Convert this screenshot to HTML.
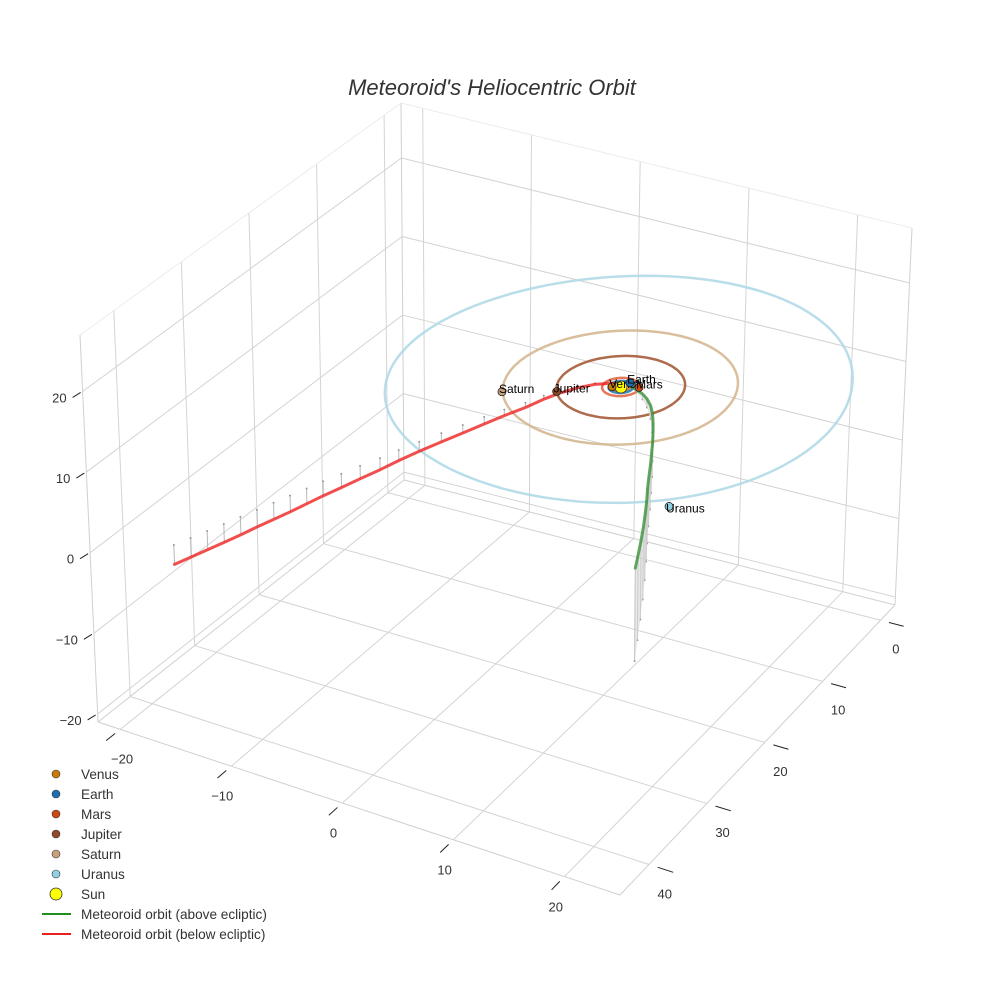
<!DOCTYPE html>
<html><head><meta charset="utf-8">
<style>
html,body{margin:0;padding:0;background:#fff;}
svg{display:block;font-family:"Liberation Sans",Arial,sans-serif;}
</style></head>
<body>
<svg id="chart" width="984" height="984" viewBox="0 0 984 984" xmlns="http://www.w3.org/2000/svg">
<rect width="984" height="984" fill="#fff"/>
<text x="492" y="95" text-anchor="middle" font-size="22" font-style="italic" fill="#333">Meteoroid's Heliocentric Orbit</text>
<g id="grid"></g>
<g id="ticks"></g>
<g id="orbits"></g>
<g id="stems"></g>
<g id="meteor"></g>
<g id="planets"></g>
<g id="legend"></g>
</svg>
<script>
const xTicks = [-20,-10,0,10,20];
const yTicks = [0,10,20,30,40];
const zTicks = [-20,-10,0,10,20];
const planetNames = ["Venus","Earth","Mars","Jupiter","Saturn","Uranus"];
const planetX = [-0.65,0.3,1.35,-4.3,-8.1,13.3];
const planetY = [0.3,-0.95,-0.6,2.9,5.1,15.4];
const planetZ = [0,0,0,-0.1,0,0.3];
const orbitRadius = [0.72,1.0,1.52,5.2,9.5,18.9];
const planetColors = ["#c97a0a","#1f6fb0","#cc4a14","#8e4b2c","#c9a27c","#8fd0e2"];
const orbitColors = ["#d2791e","#1f77b4","#e0603a","#a0522d","#d2b48c","#add8e6"];
const redX = [-17.3,-16.8,-16.3,-15.8,-15.3,-14.8,-14.3,-13.8,-13.3,-12.8,-12.2,-11.6,-10.9,-10.3,-9.6,-8.8,-8.0,-7.2,-6.4,-5.5,-4.8,-4.1,-3.2,-2.2,-1.0,0.0,0.7];
const redY = [40.3,38.6,36.9,35.2,33.5,31.8,30.1,28.4,26.7,25.0,23.2,21.3,19.4,17.5,15.5,13.4,11.4,9.4,7.6,5.8,4.1,2.7,1.4,0.4,-0.3,-0.5,-0.4];
const redZ = [-2.4,-2.35,-2.3,-2.25,-2.2,-2.1,-2.05,-2.0,-1.9,-1.8,-1.7,-1.6,-1.45,-1.3,-1.2,-1.1,-1.0,-0.9,-0.75,-0.6,-0.45,-0.35,-0.25,-0.15,-0.07,-0.02,0];
const greenX = [0.7,1.6,2.6,3.6,4.8,6.0,7.2,8.4,9.6,10.8,12.0,13.2,14.4,15.7,17.0,18.3,19.6,20.9,22.2];
const greenY = [-0.4,0.2,1.0,2.0,3.5,5.3,7.3,9.4,11.6,13.9,16.2,18.6,21.0,23.5,26.1,28.8,31.6,34.5,37.4];
const greenZ = [0,0.3,0.7,1.1,1.7,2.4,3.0,3.7,4.3,5.0,5.6,6.3,6.9,7.5,8.2,8.8,9.5,10.2,11.0];

const X0=-22,X1=25,Y0=-2.5,Y1=45,Z0=-21,Z1=27;
const C = {
  bB:[404,480], bR:[895,605], bL:[98,722], bF:[620,895],
  tB:[401,103], tR:[912,228], tL:[80,335], tF:[622,482]
};
function lerp(a,b,t){return [a[0]+(b[0]-a[0])*t,a[1]+(b[1]-a[1])*t];}
function P(x,y,z){
  const u=(x-X0)/(X1-X0), v=(y-Y0)/(Y1-Y0), w=(z-Z0)/(Z1-Z0);
  const b=lerp(lerp(C.bB,C.bR,u),lerp(C.bL,C.bF,u),v);
  const t=lerp(lerp(C.tB,C.tR,u),lerp(C.tL,C.tF,u),v);
  return lerp(b,t,w);
}
const NS="http://www.w3.org/2000/svg";
function mk(tag,attrs,parent){const e=document.createElementNS(NS,tag);for(const k in attrs)e.setAttribute(k,attrs[k]);parent.appendChild(e);return e;}
function line3(a,b,stroke,sw,parent){const p=P(...a),q=P(...b);return mk('line',{x1:p[0],y1:p[1],x2:q[0],y2:q[1],stroke:stroke,'stroke-width':sw},parent);}
function poly(pts,stroke,sw,parent,op){return mk('polyline',{points:pts.map(p=>p[0].toFixed(1)+','+p[1].toFixed(1)).join(' '),fill:'none',stroke:stroke,'stroke-width':sw,'stroke-opacity':op||1,'stroke-linejoin':'round','stroke-linecap':'round'},parent);}

const grid=document.getElementById('grid');
const gc="#d4d4d4";
for(const xv of xTicks){const e=line3([xv,Y0,Z0],[xv,Y1,Z0],gc,1,grid);}
for(const yv of yTicks){const e=line3([X0,yv,Z0],[X1,yv,Z0],gc,1,grid);}
for(const yv of yTicks){const e=line3([X0,yv,Z0],[X0,yv,Z1],gc,1,grid);}
for(const zv of zTicks){const e=line3([X0,Y0,zv],[X0,Y1,zv],gc,1,grid);}
for(const xv of xTicks){const e=line3([xv,Y0,Z0],[xv,Y0,Z1],gc,1,grid);}
for(const zv of zTicks){const e=line3([X0,Y0,zv],[X1,Y0,zv],gc,1,grid);}
[[[X0,Y0,Z0],[X0,Y0,Z1]],[[X0,Y1,Z0],[X0,Y1,Z1]],[[X1,Y0,Z0],[X1,Y0,Z1]],
 [[X0,Y1,Z0],[X1,Y1,Z0]],[[X1,Y0,Z0],[X1,Y1,Z0]],[[X0,Y0,Z0],[X0,Y1,Z0]],[[X0,Y0,Z0],[X1,Y0,Z0]]].forEach(s=>{const e=line3(s[0],s[1],"#d0d0d0",1,grid);});
[[[X0,Y0,Z1],[X0,Y1,Z1]],[[X0,Y0,Z1],[X1,Y0,Z1]]].forEach(s=>{const e=line3(s[0],s[1],"#ececec",1,grid);});

const tk=document.getElementById('ticks');
for(const xv of xTicks){const p=P(xv,Y1+0.8,Z0),q=P(xv,Y1+2.2,Z0);
  const l=mk('line',{x1:p[0],y1:p[1],x2:q[0],y2:q[1],stroke:'#222','stroke-width':1},tk);
  const t=mk('text',{x:p[0]-4+(xv===-20?11:0),y:p[1]+30,'font-size':13,fill:'#333','text-anchor':'middle'},tk);t.textContent=String(xv).replace('-','\u2212');}
for(const yv of yTicks){const p=P(X1+0.8,yv,Z0),q=P(X1+2.2,yv,Z0);
  const l=mk('line',{x1:p[0],y1:p[1],x2:q[0],y2:q[1],stroke:'#222','stroke-width':1},tk);
  const t=mk('text',{x:p[0]+7,y:p[1]+31,'font-size':13,fill:'#333','text-anchor':'middle'},tk);t.textContent=String(yv);}
for(const zv of zTicks){const p=P(X0,Y1,zv);
  const l=mk('line',{x1:p[0]-2,y1:p[1]+1,x2:p[0]-10,y2:p[1]+6,stroke:'#222','stroke-width':1},tk);
  const t=mk('text',{x:p[0]-16,y:p[1]+11,'font-size':13,fill:'#333','text-anchor':'end'},tk);t.textContent=String(zv).replace('-','\u2212');}

const og=document.getElementById('orbits');
orbitRadius.forEach((r,i)=>{const pts=[];for(let k=0;k<=160;k++){const a=2*Math.PI*k/160;pts.push(P(r*Math.cos(a),r*Math.sin(a),0));}
  const e=poly(pts,orbitColors[i],2.5,og,0.85);});

const sg=document.getElementById('stems');
function stems(xs,ys,zs){for(let i=0;i<xs.length;i++){const a=P(xs[i],ys[i],zs[i]),b=P(xs[i],ys[i],0);
  const l=mk('line',{x1:a[0],y1:a[1],x2:b[0],y2:b[1],stroke:'#b8b8b8','stroke-width':1},sg);
  const c=mk('circle',{cx:b[0],cy:b[1],r:1,fill:'#999'},sg);}}
stems(redX,redY,redZ);stems(greenX,greenY,greenZ);
(function(){const top=greenX.map((x,i)=>P(x,greenY[i],greenZ[i]));const bot=greenX.map((x,i)=>P(x,greenY[i],0)).reverse();
  const pg=mk('polygon',{points:top.concat(bot).map(p=>p[0].toFixed(1)+','+p[1].toFixed(1)).join(' '),fill:'#d8d8d8','fill-opacity':0.6,stroke:'none'},sg);
  })();

const mg=document.getElementById('meteor');
const rl=poly(redX.map((x,i)=>P(x,redY[i],redZ[i])),'#ee2222',3,mg,0.8);

const gl=poly(greenX.map((x,i)=>P(x,greenY[i],greenZ[i])),'#2e8b2e',3,mg,0.75);


const pg=document.getElementById('planets');
const sp=P(0,0,0);
const sun=mk('circle',{cx:sp[0],cy:sp[1],r:6,fill:'#ffff00',stroke:'#333','stroke-width':0.8},pg);

planetNames.forEach((n,i)=>{const p=P(planetX[i],planetY[i],planetZ[i]);
  const c=mk('circle',{cx:p[0],cy:p[1],r:4,fill:planetColors[i],stroke:'#222','stroke-width':0.8},pg);
  
  const t=mk('text',{x:p[0]-3,y:p[1]+1+(n==='Uranus'?5:0),'font-size':12,fill:'#000'},pg);t.textContent=n;
  });

const lg=document.getElementById('legend');
const legItems=[["Venus","m",planetColors[0]],["Earth","m",planetColors[1]],["Mars","m",planetColors[2]],["Jupiter","m",planetColors[3]],["Saturn","m",planetColors[4]],["Uranus","m",planetColors[5]],["Sun","s","#ffff00"],["Meteoroid orbit (above ecliptic)","l","#1f8f1f"],["Meteoroid orbit (below ecliptic)","l","#e82020"]];
legItems.forEach((it,i)=>{const y=774+i*20;
  const g=mk('g',{},lg);
  if(it[1]==='m')mk('circle',{cx:56,cy:y,r:4,fill:it[2],stroke:'#333','stroke-width':0.6},g);
  else if(it[1]==='s')mk('circle',{cx:56,cy:y,r:6,fill:it[2],stroke:'#333','stroke-width':0.8},g);
  else mk('line',{x1:42,y1:y,x2:71,y2:y,stroke:it[2],'stroke-width':2},g);
  const t=mk('text',{x:81,y:y+5,'font-size':13.6,fill:'#333'},g);t.textContent=it[0];});
</script>
</body></html>
